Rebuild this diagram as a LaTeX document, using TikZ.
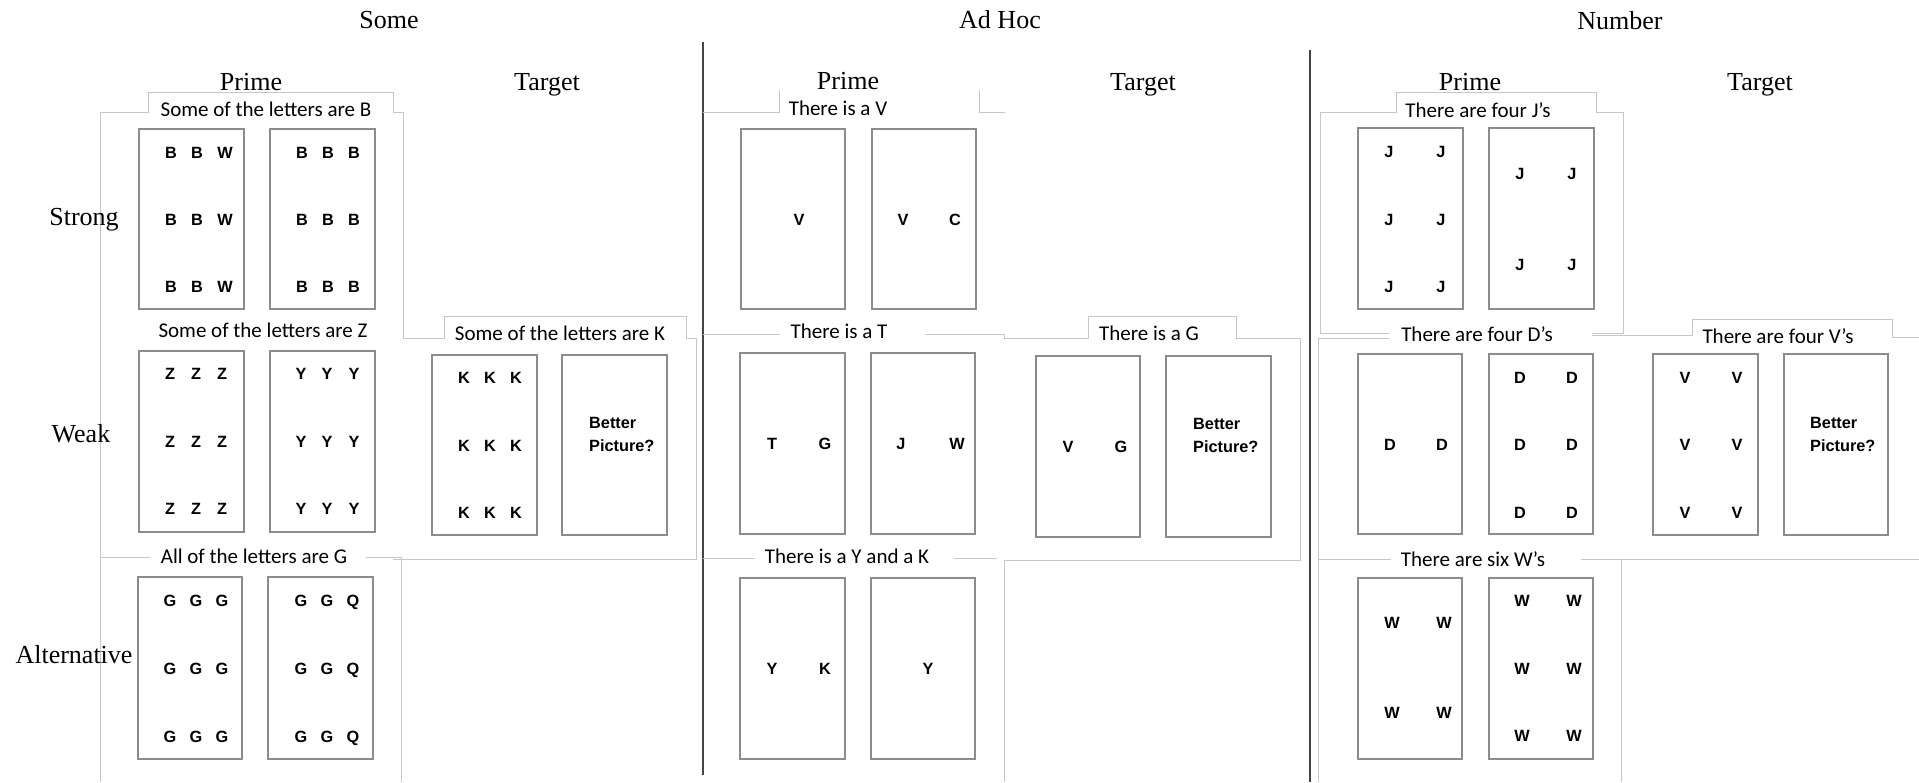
\documentclass[tikz,border=0pt]{standalone}
\usepackage{fontspec}
\newfontfamily\tnrf{Liberation Serif}
\newfontfamily\calf{Carlito}
\newfontfamily\arbf{Liberation Sans}
\definecolor{framegray}{HTML}{C6C6C6}
\definecolor{boxgray}{HTML}{8C8C8C}
\definecolor{divgray}{HTML}{444444}
\newcommand\mycard[5]{\node[card, minimum width={#4pt-#2pt}, minimum height={#5pt-#3pt}] (#1) at ({(#2+#4)/2},{(#3+#5)/2}) {};}
\begin{document}
\begin{tikzpicture}[x=1pt,y=-1pt,
  hd/.style={font=\tnrf\fontsize{26}{30}\selectfont, anchor=base, inner sep=0},
  lbl/.style={font=\calf\fontsize{21}{25}\selectfont, anchor=base, inner sep=0},
  lt/.style={font=\arbf\bfseries\fontsize{16.3}{19}\selectfont, inner sep=0, text height=11.7pt, text depth=0pt, anchor=center},
  bp/.style={lt, anchor=west},
  card/.style={draw=boxgray, line width=1.2pt, inner sep=0},
  frame/.style={draw=framegray, line width=1pt},
  divider/.style={draw=divgray, line width=1.2pt}]
\useasboundingbox[fill=white] (0,0) rectangle (1919,782);

% ---------- dividers ----------
\draw[divider] (703,42) -- (703,775);
\draw[divider] (1310,50) -- (1310,782);

% ---------- frames: Some ----------
\draw[frame] (100,782) -- (100,112) -- (148,112) -- (148,92) -- (393,92) -- (393,112) -- (403,112) -- (403,338)
  -- (444,338) -- (444,316) -- (686,316) -- (686,338) -- (696,338) -- (696,559) -- (393,559);
\draw[frame] (100,557) -- (150,557);
\draw[frame] (366,557) -- (401,557) -- (401,782);

% ---------- frames: Ad Hoc ----------
\draw[frame] (703,112) -- (779,112) -- (779,90);
\draw[frame] (979,90) -- (979,112) -- (1005,112);
\draw[frame] (703,334) -- (780,334);
\draw[frame] (925,334) -- (1004,334) -- (1004,338) -- (1088,338) -- (1088,316) -- (1236,316) -- (1236,338)
  -- (1300,338) -- (1300,560) -- (1005,560);
\draw[frame] (703,558) -- (755,558);
\draw[frame] (954,558) -- (997,558);
\draw[frame] (1004,560) -- (1004,782);

% ---------- frames: Number ----------
\draw[frame] (1389,333) -- (1320,333) -- (1320,112) -- (1396,112) -- (1396,92) -- (1596,92) -- (1596,112)
  -- (1623,112) -- (1623,333) -- (1592,333);
\draw[frame] (1592,335) -- (1692,335) -- (1692,319) -- (1892,319) -- (1892,337) -- (1919,337);
\draw[frame] (1389,338) -- (1318,338) -- (1318,782);
\draw[frame] (1318,559) -- (1391,559);
\draw[frame] (1581,559) -- (1919,559);
\draw[frame] (1621,560) -- (1621,782);

% ---------- headings ----------
\node[hd] (hSome) at (389,28) {Some};
\node[hd] (hAdHoc) at (1000,28) {Ad Hoc};
\node[hd] (hNumber) at (1620,29) {Number};
\node[hd] (pS) at (251,90) {Prime};
\node[hd] (tS) at (547,90) {Target};
\node[hd] (pA) at (848,89) {Prime};
\node[hd] (tA) at (1143,90) {Target};
\node[hd] (pN) at (1470,90) {Prime};
\node[hd] (tN) at (1760,90) {Target};
\node[hd] (rStrong) at (84,225) {Strong};
\node[hd] (rWeak) at (81,442) {Weak};
\node[hd] (rAlt) at (74,663) {Alternative};

% ---------- labels ----------
\node[lbl] (lS1) at (266,116) {Some of the letters are B};
\node[lbl] (lS2) at (263,337) {Some of the letters are Z};
\node[lbl] (lS2t) at (560,340) {Some of the letters are K};
\node[lbl] (lS3) at (254,563) {All of the letters are G};
\node[lbl] (lA1) at (838,115) {There is a V};
\node[lbl] (lA2) at (839,338) {There is a T};
\node[lbl] (lA2t) at (1149,340) {There is a G};
\node[lbl] (lA3) at (847,563) {There is a Y and a K};
\node[lbl] (lN1) at (1478,117) {There are four J’s};
\node[lbl] (lN2) at (1477,341) {There are four D’s};
\node[lbl] (lN2t) at (1778,343) {There are four V’s};
\node[lbl] (lN3) at (1473,566) {There are six W’s};

% ---------- cards: Some ----------
\mycard{S1a}{139}{129}{244}{309}
\mycard{S1b}{270}{129}{375}{309}
\mycard{S2a}{139}{351}{244}{532}
\mycard{S2b}{270}{351}{375}{532}
\mycard{S2t}{432}{355}{537}{535}
\mycard{S2q}{562}{355}{667}{535}
\mycard{S3a}{138}{577}{242}{759}
\mycard{S3b}{268}{577}{373}{759}
% ---------- cards: Ad Hoc ----------
\mycard{A1a}{741}{129}{845}{309}
\mycard{A1b}{872}{129}{976}{309}
\mycard{A2a}{740}{353}{845}{534}
\mycard{A2b}{871}{353}{975}{534}
\mycard{A2t}{1036}{356}{1140}{537}
\mycard{A2q}{1166}{356}{1271}{537}
\mycard{A3a}{740}{578}{845}{759}
\mycard{A3b}{871}{578}{975}{759}
% ---------- cards: Number ----------
\mycard{N1a}{1358}{128}{1463}{309}
\mycard{N1b}{1489}{128}{1594}{309}
\mycard{N2a}{1358}{354}{1462}{534}
\mycard{N2b}{1489}{354}{1593}{534}
\mycard{N2t}{1653}{354}{1758}{535}
\mycard{N2q}{1784}{354}{1888}{535}
\mycard{N3a}{1358}{578}{1462}{759}
\mycard{N3b}{1489}{578}{1593}{759}

% ---------- letters: Some ----------
\foreach \x/\l [count=\i] in {171/B,197/B,225/W}
  \foreach \y [count=\j] in {153,220,287} \node[lt] (s1a-\i-\j) at (\x,\y) {\l};
\foreach \x/\l [count=\i] in {302/B,328/B,354/B}
  \foreach \y [count=\j] in {153,220,287} \node[lt] (s1b-\i-\j) at (\x,\y) {\l};
\foreach \x/\l [count=\i] in {170/Z,196/Z,222/Z}
  \foreach \y [count=\j] in {374,442,509} \node[lt] (s2a-\i-\j) at (\x,\y) {\l};
\foreach \x/\l [count=\i] in {301/Y,327/Y,354/Y}
  \foreach \y [count=\j] in {374,442,509} \node[lt] (s2b-\i-\j) at (\x,\y) {\l};
\foreach \x/\l [count=\i] in {464/K,490/K,516/K}
  \foreach \y [count=\j] in {378,446,513} \node[lt] (s2t-\i-\j) at (\x,\y) {\l};
\foreach \x/\l [count=\i] in {170/G,196/G,222/G}
  \foreach \y [count=\j] in {601,669,737} \node[lt] (s3a-\i-\j) at (\x,\y) {\l};
\foreach \x/\l [count=\i] in {301/G,327/G,353/Q}
  \foreach \y [count=\j] in {601,669,737} \node[lt] (s3b-\i-\j) at (\x,\y) {\l};
\node[bp] (bpS1) at (589,423) {Better};
\node[bp] (bpS2) at (589,446) {Picture?};

% ---------- letters: Ad Hoc ----------
\node[lt] (a1a) at (799,220) {V};
\node[lt] (a1b1) at (903,220) {V};
\node[lt] (a1b2) at (955,220) {C};
\node[lt] (a2a1) at (772,444) {T};
\node[lt] (a2a2) at (825,444) {G};
\node[lt] (a2b1) at (901,444) {J};
\node[lt] (a2b2) at (957,444) {W};
\node[lt] (a2t1) at (1068,447) {V};
\node[lt] (a2t2) at (1121,447) {G};
\node[bp] (bpA1) at (1193,424) {Better};
\node[bp] (bpA2) at (1193,447) {Picture?};
\node[lt] (a3a1) at (772,669) {Y};
\node[lt] (a3a2) at (825,669) {K};
\node[lt] (a3b1) at (928,669) {Y};

% ---------- letters: Number ----------
\foreach \x [count=\i] in {1389,1441}
  \foreach \y [count=\j] in {152,220,287} \node[lt] (n1a-\i-\j) at (\x,\y) {J};
\foreach \x [count=\i] in {1520,1572}
  \foreach \y [count=\j] in {174,265} \node[lt] (n1b-\i-\j) at (\x,\y) {J};
\foreach \x [count=\i] in {1390,1442} \node[lt] (n2a-\i) at (\x,445) {D};
\foreach \x [count=\i] in {1520,1572}
  \foreach \y [count=\j] in {378,445,513} \node[lt] (n2b-\i-\j) at (\x,\y) {D};
\foreach \x [count=\i] in {1685,1737}
  \foreach \y [count=\j] in {378,445,513} \node[lt] (n2t-\i-\j) at (\x,\y) {V};
\node[bp] (bpN1) at (1810,423) {Better};
\node[bp] (bpN2) at (1810,446) {Picture?};
\foreach \x [count=\i] in {1392,1444}
  \foreach \y [count=\j] in {623,713} \node[lt] (n3a-\i-\j) at (\x,\y) {W};
\foreach \x [count=\i] in {1522,1574}
  \foreach \y [count=\j] in {601,669,736} \node[lt] (n3b-\i-\j) at (\x,\y) {W};
\end{tikzpicture}
\end{document}
